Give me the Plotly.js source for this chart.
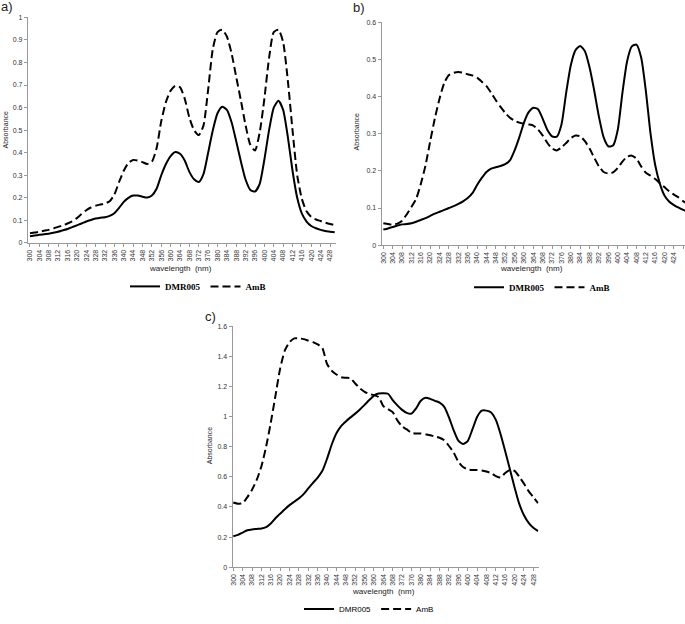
<!DOCTYPE html>
<html>
<head>
<meta charset="utf-8">
<script src="https://cdn.plot.ly/plotly-3.0.1.min.js"></script>
<style>
  html, body { margin: 0; padding: 0; background: #fff; }
  #chart { width: 685px; height: 624px; }
</style>
</head>
<body>
<div id="chart"></div>
<script>
/* ---- Data (absorbance, 2 nm steps) ---- */
const WL = [300, 302, 304, 306, 308, 310, 312, 314, 316, 318, 320, 322, 324, 326, 328, 330, 332, 334, 336, 338,
  340, 342, 344, 346, 348, 350, 352, 354, 356, 358, 360, 362, 364, 366, 368, 370, 372, 374, 376, 378,
  380, 382, 384, 386, 388, 390, 392, 394, 396, 398, 400, 402, 404, 406, 408, 410, 412, 414, 416, 418,
  420, 422, 424, 426, 428, 430];

// a)
const A_DMR = [0.030, 0.033, 0.036, 0.039, 0.041, 0.045, 0.050, 0.056, 0.062, 0.070, 0.078, 0.086, 0.095, 0.102, 0.108, 0.112, 0.114, 0.120, 0.132, 0.155,
  0.182, 0.200, 0.210, 0.210, 0.205, 0.201, 0.210, 0.240, 0.300, 0.350, 0.385, 0.403, 0.395, 0.365, 0.315, 0.282, 0.270, 0.305, 0.400, 0.500,
  0.575, 0.604, 0.590, 0.535, 0.450, 0.360, 0.280, 0.235, 0.228, 0.262, 0.370, 0.500, 0.600, 0.630, 0.590, 0.470, 0.320, 0.200, 0.130, 0.095,
  0.075, 0.065, 0.058, 0.053, 0.050, 0.047];
const A_AMB = [0.043, 0.046, 0.050, 0.054, 0.058, 0.064, 0.071, 0.078, 0.086, 0.096, 0.110, 0.128, 0.145, 0.157, 0.165, 0.170, 0.175, 0.185, 0.215, 0.270,
  0.320, 0.355, 0.368, 0.365, 0.358, 0.350, 0.360, 0.420, 0.540, 0.625, 0.675, 0.697, 0.690, 0.640, 0.555, 0.500, 0.478, 0.520, 0.680, 0.860,
  0.935, 0.945, 0.915, 0.840, 0.735, 0.630, 0.520, 0.435, 0.410, 0.490, 0.640, 0.820, 0.935, 0.945, 0.890, 0.720, 0.500, 0.300, 0.195, 0.140,
  0.115, 0.104, 0.097, 0.090, 0.084, 0.079];

// b)
const B_DMR = [0.042, 0.045, 0.049, 0.053, 0.056, 0.057, 0.059, 0.063, 0.068, 0.073, 0.079, 0.085, 0.090, 0.095, 0.100, 0.105, 0.111, 0.118, 0.127, 0.140,
  0.162, 0.181, 0.197, 0.206, 0.210, 0.213, 0.218, 0.228, 0.255, 0.290, 0.330, 0.358, 0.370, 0.366, 0.340, 0.310, 0.293, 0.292, 0.325, 0.410,
  0.485, 0.525, 0.536, 0.522, 0.478, 0.415, 0.345, 0.290, 0.266, 0.268, 0.310, 0.410, 0.495, 0.535, 0.540, 0.505, 0.415, 0.300, 0.215, 0.165,
  0.133, 0.117, 0.108, 0.101, 0.095, 0.090];
const B_AMB = [0.059, 0.057, 0.055, 0.058, 0.066, 0.083, 0.103, 0.125, 0.165, 0.215, 0.280, 0.342, 0.395, 0.437, 0.458, 0.464, 0.466, 0.464, 0.460, 0.457,
  0.451, 0.440, 0.428, 0.410, 0.390, 0.372, 0.356, 0.343, 0.335, 0.330, 0.327, 0.325, 0.322, 0.311, 0.295, 0.275, 0.260, 0.255, 0.263, 0.275,
  0.288, 0.295, 0.293, 0.280, 0.260, 0.235, 0.212, 0.197, 0.193, 0.196, 0.208, 0.225, 0.238, 0.241, 0.233, 0.212, 0.195, 0.187, 0.178, 0.167,
  0.156, 0.145, 0.136, 0.128, 0.118, 0.110];

// c)
const C_DMR = [0.206, 0.215, 0.230, 0.245, 0.251, 0.254, 0.257, 0.266, 0.290, 0.325, 0.355, 0.385, 0.412, 0.435, 0.457, 0.485, 0.523, 0.560, 0.595, 0.640,
  0.720, 0.815, 0.890, 0.937, 0.968, 0.995, 1.020, 1.048, 1.078, 1.110, 1.140, 1.153, 1.155, 1.152, 1.110, 1.075, 1.045, 1.025, 1.020, 1.055,
  1.105, 1.125, 1.118, 1.105, 1.093, 1.065, 0.995, 0.910, 0.840, 0.818, 0.838, 0.915, 0.998, 1.040, 1.040, 1.028, 0.978, 0.885, 0.770, 0.650,
  0.530, 0.420, 0.345, 0.295, 0.262, 0.240];
const C_AMB = [0.430, 0.422, 0.425, 0.465, 0.515, 0.580, 0.670, 0.800, 0.960, 1.140, 1.320, 1.440, 1.495, 1.520, 1.520, 1.515, 1.505, 1.495, 1.480, 1.455,
  1.350, 1.305, 1.280, 1.262, 1.258, 1.255, 1.220, 1.188, 1.165, 1.150, 1.143, 1.130, 1.070, 1.050, 1.030, 0.975, 0.935, 0.915, 0.893, 0.888,
  0.888, 0.882, 0.876, 0.868, 0.860, 0.843, 0.805, 0.762, 0.700, 0.665, 0.650, 0.645, 0.645, 0.642, 0.635, 0.625, 0.605, 0.595, 0.625, 0.645,
  0.640, 0.600, 0.555, 0.505, 0.465, 0.425];

const SERIES = ['DMR005', 'AmB'];

/* ---- Helpers ---- */
const W = 685, H = 624;
const px = v => v / W;          // horizontal pixel -> paper
const py = v => 1 - v / H;      // vertical pixel -> paper
const SANS = 'Liberation Sans, Arial, sans-serif';
const SERIF = 'Liberation Serif, Times New Roman, serif';

function mkTraces(dmr, amb, n, lw, dash) {
  const ax = n === 1 ? '' : String(n);
  const leg = n === 1 ? 'legend' : 'legend' + n;
  return [
    { x: WL, y: dmr, name: SERIES[0], mode: 'lines', line: { color: '#000', width: lw, shape: 'spline', smoothing: 0.6 },
      xaxis: 'x' + ax, yaxis: 'y' + ax, legend: leg },
    { x: WL, y: amb, name: SERIES[1], mode: 'lines', line: { color: '#000', width: lw, dash: dash, shape: 'spline', smoothing: 0.6 },
      xaxis: 'x' + ax, yaxis: 'y' + ax, legend: leg },
  ];
}

function xAx(dom, range, anchor) {
  return {
    domain: dom, range: range, anchor: anchor,
    tick0: 300, dtick: 4, tickangle: -90,
    ticks: 'outside', ticklen: 3, tickcolor: '#999',
    showline: true, linecolor: '#999', linewidth: 1.2,
    showgrid: false, zeroline: false,
    tickfont: { family: SANS, size: 7, color: '#333' },
  };
}
function yAx(dom, range, dtick, anchor) {
  return {
    domain: dom, range: range, dtick: dtick, anchor: anchor,
    ticks: 'outside', ticklen: 3, tickcolor: '#999',
    showline: true, linecolor: '#999', linewidth: 1.2,
    showgrid: false, zeroline: false,
    tickfont: { family: SANS, size: 7, color: '#333' },
  };
}
function legendAt(cx, cy, font) {
  return {
    orientation: 'h', x: px(cx), y: py(cy), xanchor: 'center', yanchor: 'middle',
    font: Object.assign({ color: '#000' }, font), bgcolor: 'rgba(0,0,0,0)',
    itemwidth: 30, tracegroupgap: 0,
  };
}
function note(text, x, y, size, extra) {
  return Object.assign({
    text: text, xref: 'paper', yref: 'paper', x: px(x), y: py(y),
    xanchor: 'center', yanchor: 'middle', showarrow: false,
    font: { family: SANS, size: size, color: '#222' },
  }, extra || {});
}

const traces = [
  ...mkTraces(A_DMR, A_AMB, 1, 2, '8px,4px'),
  ...mkTraces(B_DMR, B_AMB, 2, 2, '8px,4px'),
  ...mkTraces(C_DMR, C_AMB, 3, 2, '8px,4px'),
];

const layout = {
  width: W, height: H,
  margin: { l: 0, r: 0, t: 0, b: 0 },
  paper_bgcolor: '#fff', plot_bgcolor: '#fff',
  showlegend: true,
  xaxis:  xAx([px(28), px(336)], [299.15, 430.55], 'y'),
  yaxis:  yAx([py(247.7), py(17.7)], [0, 1], 0.1, 'x'),
  xaxis2: xAx([px(381.7), 1], [299.3, 428.7], 'y2'),
  yaxis2: yAx([py(250), py(22.7)], [0, 0.6], 0.1, 'x2'),
  xaxis3: xAx([px(232.7), px(538.5)], [299.75, 430.2], 'y3'),
  yaxis3: yAx([py(578.3), py(332.7)], [0, 1.6], 0.2, 'x3'),
  legend:  legendAt(198, 292, { family: SERIF, size: 9, weight: 'bold' }),
  legend2: legendAt(542, 293, { family: SERIF, size: 9, weight: 'bold' }),
  legend3: legendAt(369, 621, { family: SANS, size: 8 }),
  annotations: [
    note('a)', 7, 7, 13, { font: { family: SANS, size: 13, color: '#222' } }),
    note('b)', 359, 8, 13, { font: { family: SANS, size: 13, color: '#222' } }),
    note('c)', 210, 323, 13, { font: { family: SANS, size: 13, color: '#222' } }),
    note('Absorbance', 5, 133, 7, { textangle: -90 }),
    note('Absorbance', 356, 135, 7, { textangle: -90 }),
    note('Absorbance', 209, 455, 7, { textangle: -90 }),
    note('wavelength  (nm)', 180, 274, 8),
    note('wavelength  (nm)', 531, 274, 8),
    note('wavelength  (nm)', 383, 603, 8),
  ],
};

Plotly.newPlot('chart', traces, layout, { displayModeBar: false, responsive: false });
</script>
</body>
</html>
